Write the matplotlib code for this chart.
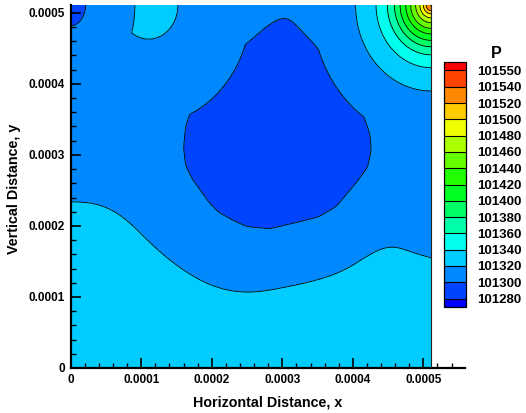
import numpy as np
import matplotlib
matplotlib.use("Agg")
import matplotlib.pyplot as plt
from matplotlib.colors import ListedColormap, BoundaryNorm
from matplotlib.ticker import MultipleLocator

plt.rcParams['font.family'] = ['Liberation Sans', 'DejaVu Sans']
plt.rcParams['font.weight'] = 'bold'

# Domain size (micrometres)
domain_x_um = 511.0
domain_y_um = 511.0

# 101320 Pa isoline separating the lower layer (x, y in um)
wave_x_um = [0, 41, 79, 112, 157, 207, 258, 300, 349, 395, 456, 484, 511]
wave_y_um = [234, 229, 208, 177, 140, 114, 107, 113, 124, 142, 170, 163, 155]

# 101300 Pa isoline bounding the low-pressure pocket (clockwise from its tip)
drop_x_um = [302, 313, 324, 346, 372, 395, 414, 424, 426, 421, 405, 376, 352,
             325, 282, 250, 230, 210, 197, 173, 163, 160, 163, 172, 188, 210,
             234, 257, 277, 291]
drop_y_um = [493, 489, 478, 455, 420, 382, 358, 330, 307, 283, 261, 227, 213,
             206, 196, 199, 208, 219, 232, 265, 285, 310, 340, 367, 394, 420,
             444, 463, 480, 489]
drop_center_um = (293.0, 335.0)

# 101320 Pa cap on the upper wall: centre x and half-extents (um)
cap_center_x_um = 110.5
cap_half_width_um = 41.5
cap_depth_um = 48.0

# 101300 Pa pocket in the upper-left corner: half-extents along x and y (um)
corner_low_extent_um = (21.0, 29.0)

# Isolines around the upper-right corner: radius (um) for each pressure (Pa)
corner_radius_um = [0, 7, 11, 16, 22, 29, 36, 44, 52, 62, 78, 107, 200]
corner_pressure = [101543, 101520, 101500, 101480, 101460, 101440, 101420,
                   101400, 101380, 101360, 101340, 101320, 101290]
corner_stretch_y = 1.13

# Contour levels and band colours
levels = [101280, 101300, 101320, 101340, 101360, 101380, 101400, 101420,
          101440, 101460, 101480, 101500, 101520, 101540, 101550]
band_colors = ['#0044ff', '#0088ff', '#00ccff', '#00ffee', '#00ffaa', '#00ff66',
               '#00ff22', '#22ff00', '#66ff00', '#aaff00', '#eeff00', '#ffcc00',
               '#ff8800', '#ff4400']
under_color = '#0000ff'
over_color = '#ff0000'

x_ticks = [0, 0.0001, 0.0002, 0.0003, 0.0004, 0.0005]
x_tick_labels = ['0', '0.0001', '0.0002', '0.0003', '0.0004', '0.0005']
y_ticks = [0, 0.0001, 0.0002, 0.0003, 0.0004, 0.0005]
y_tick_labels = ['0', '0.0001', '0.0002', '0.0003', '0.0004', '0.0005']


def natural_spline(t, v, s):
    """Evaluate the natural cubic spline through (t, v) at s."""
    t = np.asarray(t, float)
    v = np.asarray(v, float)
    s = np.asarray(s, float)
    n = len(t)
    h = np.diff(t)
    A = np.zeros((n, n))
    rhs = np.zeros(n)
    A[0, 0] = A[-1, -1] = 1.0
    for i in range(1, n - 1):
        A[i, i - 1] = h[i - 1]
        A[i, i] = 2 * (h[i - 1] + h[i])
        A[i, i + 1] = h[i]
        rhs[i] = 6 * ((v[i + 1] - v[i]) / h[i] - (v[i] - v[i - 1]) / h[i - 1])
    m = np.linalg.solve(A, rhs)
    k = np.clip(np.searchsorted(t, s) - 1, 0, n - 2)
    a = (t[k + 1] - s) / h[k]
    b = (s - t[k]) / h[k]
    return (a * v[k] + b * v[k + 1]
            + ((a ** 3 - a) * m[k] + (b ** 3 - b) * m[k + 1]) * h[k] ** 2 / 6)


def outline_profile(xs, ys, center, n_per_edge=40, smooth=9):
    """Radius of a closed outline as a function of angle about center."""
    px = np.append(xs, xs[0]).astype(float)
    py = np.append(ys, ys[0]).astype(float)
    f = np.linspace(0, 1, n_per_edge, endpoint=False)
    dx = np.concatenate([px[i] + f * (px[i + 1] - px[i]) for i in range(len(xs))])
    dy = np.concatenate([py[i] + f * (py[i + 1] - py[i]) for i in range(len(xs))])
    a = np.arctan2(dy - center[1], dx - center[0])
    r = np.hypot(dx - center[0], dy - center[1])
    o = np.argsort(a)
    a, r = a[o], r[o]
    grid = np.linspace(-np.pi, np.pi, 720, endpoint=False)
    rg = np.interp(grid, a, r, period=2 * np.pi)
    kernel = np.ones(smooth) / smooth
    rg = np.convolve(np.concatenate([rg[-smooth:], rg, rg[:smooth]]), kernel,
                     mode='same')[smooth:-smooth]
    return grid, rg


# ---- pressure field ----
xf = np.linspace(0.0, domain_x_um, 700)
yf = np.linspace(0.0, domain_y_um, 700)
X, Y = np.meshgrid(xf, yf)

# height of the lower layer boundary
yw = natural_spline(wave_x_um, wave_y_um, xf)[None, :]
above = Y - yw

# radial description of the pocket
cx, cy = drop_center_um
ang, rad = outline_profile(drop_x_um, drop_y_um, drop_center_um)
theta = np.arctan2(Y - cy, X - cx)
R = np.interp(theta, ang, rad, period=2 * np.pi)
dist = np.hypot(X - cx, Y - cy)
outside = dist - R

P = np.empty_like(X)
below = above < 0
inside = outside < 0
mid = ~below & ~inside
P[below] = 101320 + 10 * (1 - np.exp(above[below] / 30.0))
t = outside[mid] / (outside[mid] + above[mid])
P[mid] = 101300 + 20 * t
P[inside] = 101300 - 12 * (1 - dist[inside] / R[inside])

# cap on the upper wall
rb = np.hypot((X - cap_center_x_um) / cap_half_width_um,
              (Y - domain_y_um) / cap_depth_um)
P = np.maximum(P, 101320 + 8 * (1 - rb))

# small low pocket in the upper-left corner
ex, ey = corner_low_extent_um
rd = np.hypot(X / ex, (Y - domain_y_um) / ey)
P = np.minimum(P, 101300 - 6 * (1 - rd))

# rise toward the upper-right corner
rc = np.hypot(domain_x_um - X, (domain_y_um - Y) / corner_stretch_y)
P = np.maximum(P, np.interp(rc, corner_radius_um, corner_pressure))

# ---- figure ----
fig = plt.figure(figsize=(5.26, 4.13), dpi=100)
ax = fig.add_axes([70.7 / 526, 45 / 413, (465 - 70.7) / 526, (368 - 5) / 413])

cmap = ListedColormap(band_colors)
cmap.set_under(under_color)
cmap.set_over(over_color)
norm = BoundaryNorm(levels, cmap.N)

XM, YM = X * 1e-6, Y * 1e-6
cf = ax.contourf(XM, YM, P, levels=levels, cmap=cmap, norm=norm, extend='both')
ax.contour(XM, YM, P, levels=levels, colors='black', linewidths=0.6)
ax.axvline(domain_x_um * 1e-6, color='#222222', lw=0.8)

ax.set_xlim(0, 0.000559)
ax.set_ylim(0, domain_y_um * 1e-6)

for side in ('top', 'right'):
    ax.spines[side].set_visible(False)
for side in ('bottom', 'left'):
    ax.spines[side].set_linewidth(1.6)
    ax.spines[side].set_zorder(5)

ax.set_xticks(x_ticks)
ax.set_xticklabels(x_tick_labels)
ax.set_yticks(y_ticks)
ax.set_yticklabels(y_tick_labels)
ax.xaxis.set_minor_locator(MultipleLocator(0.00002))
ax.yaxis.set_minor_locator(MultipleLocator(0.00002))
ax.tick_params(which='major', direction='in', length=7, width=1.2,
               labelsize=8.5, pad=4)
ax.tick_params(which='minor', direction='in', length=3.6, width=1.0)
for lab in ax.get_xticklabels() + ax.get_yticklabels():
    lab.set_fontweight('bold')

fig.text(268 / 526, 1 - 406.7 / 413, 'Horizontal Distance, x', ha='center',
         va='baseline', fontsize=10.3, fontweight='bold')
fig.text(18 / 526, 1 - 189 / 413, 'Vertical Distance, y', ha='center',
         va='baseline', rotation=90, rotation_mode='anchor',
         fontsize=10.3, fontweight='bold')

# ---- legend bar ----
cax = fig.add_axes([444 / 526, (413 - 307) / 413, 22 / 526, 245 / 413])
cb = fig.colorbar(cf, cax=cax, extend='both', extendrect=True,
                  extendfrac=0.037, drawedges=True)
cb.set_ticks(levels)
cb.set_ticklabels([str(v) for v in levels])
cb.ax.tick_params(length=0, pad=8, labelsize=9.5)
for lab in cb.ax.get_yticklabels():
    lab.set_fontweight('bold')
cb.outline.set_linewidth(0.9)
cb.dividers.set_linewidth(0.8)
fig.text(496 / 526, 1 - 58 / 413, 'P', ha='center', va='baseline',
         fontsize=11.5, fontweight='bold')

fig.savefig('out.png', dpi=100)
